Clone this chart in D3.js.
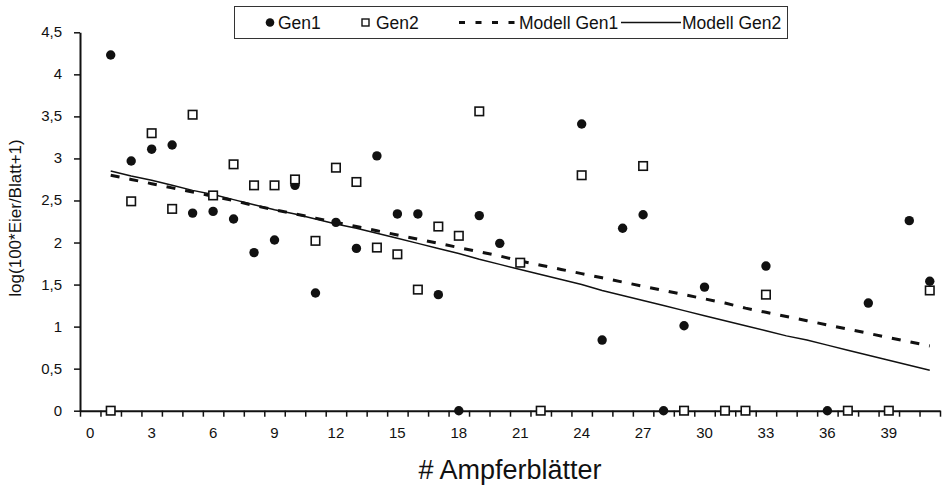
<!DOCTYPE html>
<html><head><meta charset="utf-8">
<script src="https://cdn.jsdelivr.net/npm/d3@7"></script>
<style>
body{margin:0;background:#fff}
svg{display:block}
text{font-family:"Liberation Sans",Arial,Helvetica,sans-serif;fill:#111}
</style>
</head><body>
<svg id="chart" width="945" height="488"></svg>
<script>
// ---- data ----
const categories = d3.range(0, 42);            // # Ampferblätter (category axis)
const xTickLabels = [0, 3, 6, 9, 12, 15, 18, 21, 24, 27, 30, 33, 36, 39];
const yTickValues = [0, 0.5, 1, 1.5, 2, 2.5, 3, 3.5, 4, 4.5];
const seriesNames = ["Gen1", "Gen2", "Modell Gen1", "Modell Gen2"];

// Gen1 observations [category, value]
const gen1Cat = [1, 2, 3, 4, 5, 6, 7, 8, 9, 10, 11, 12, 13, 14, 15, 16, 17, 18, 19, 20, 24, 25, 26, 27, 28, 29, 30, 33, 36, 38, 40, 41];
const gen1Val = [4.23, 2.97, 3.11, 3.16, 2.35, 2.37, 2.28, 1.88, 2.03, 2.68, 1.40, 2.24, 1.93, 3.03, 2.34, 2.34, 1.38, 0, 2.32, 1.99, 3.41, 0.84, 2.17, 2.33, 0, 1.01, 1.47, 1.72, 0, 1.28, 2.26, 1.54];

// Gen2 observations
const gen2Cat = [1, 2, 3, 4, 5, 6, 7, 8, 9, 10, 11, 12, 13, 14, 15, 16, 17, 18, 19, 21, 22, 24, 27, 29, 31, 32, 33, 37, 39, 41];
const gen2Val = [0, 2.49, 3.30, 2.40, 3.52, 2.56, 2.93, 2.68, 2.68, 2.75, 2.02, 2.89, 2.72, 1.94, 1.86, 1.44, 2.19, 2.08, 3.56, 1.76, 0, 2.80, 2.91, 0, 0, 0, 1.38, 0, 0, 1.43];

// Model curves, categories 1..41
const modelCat = d3.range(1, 42);
const modelGen1 = [2.80, 2.75, 2.70, 2.65, 2.60, 2.55, 2.50, 2.44, 2.39, 2.34, 2.29, 2.24, 2.19, 2.14, 2.09, 2.04, 1.99, 1.94, 1.89, 1.84, 1.78, 1.73, 1.68, 1.63, 1.58, 1.53, 1.48, 1.43, 1.38, 1.33, 1.28, 1.22, 1.17, 1.12, 1.07, 1.02, 0.97, 0.92, 0.87, 0.82, 0.77];
const modelGen2 = [2.85, 2.79, 2.74, 2.68, 2.62, 2.57, 2.51, 2.45, 2.39, 2.34, 2.28, 2.22, 2.17, 2.11, 2.05, 1.99, 1.93, 1.87, 1.80, 1.74, 1.68, 1.62, 1.56, 1.50, 1.43, 1.37, 1.31, 1.25, 1.19, 1.13, 1.07, 1.01, 0.95, 0.89, 0.84, 0.78, 0.72, 0.66, 0.60, 0.54, 0.48];

// ---- chart ----
const svg = d3.select("#chart");
const ink = "#111";

const x = d3.scaleBand().domain(categories).range([80, 940]).paddingInner(0).paddingOuter(0);
const xc = d => x(d) + x.bandwidth() / 2;
const xb = d3.scaleLinear().domain([0, categories.length]).range([80, 940]);
const y = d3.scaleLinear().domain([0, 4.5]).range([410.7, 32.3]);

// y axis
const yAxis = svg.append("g").attr("transform", "translate(80,0)")
  .call(d3.axisLeft(y).tickValues(yTickValues).tickSize(6).tickSizeOuter(0).tickPadding(12)
    .tickFormat(d => String(d).replace(".", ",")));
yAxis.select(".domain").attr("stroke", ink).attr("stroke-width", 2);
yAxis.selectAll(".tick line").attr("stroke", ink).attr("stroke-width", 1.5);
yAxis.selectAll(".tick text").attr("font-size", 15).attr("font-family", "Liberation Sans, Arial, sans-serif")
  .attr("fill", ink).attr("dy", "0.3em");

// x axis (tick marks at category boundaries)
const xAxis = svg.append("g").attr("transform", `translate(0,${y(0)})`)
  .call(d3.axisBottom(xb).tickValues(d3.range(0, categories.length + 1)).tickSize(6).tickSizeOuter(0).tickFormat(""));
xAxis.select(".domain").attr("stroke", ink).attr("stroke-width", 2);
xAxis.selectAll(".tick line").attr("stroke", ink).attr("stroke-width", 1.5);

// x labels centered in categories
svg.append("g").selectAll("text").data(xTickLabels).join("text")
  .attr("x", d => xc(d)).attr("y", 438)
  .attr("text-anchor", "middle").attr("font-size", 15).attr("fill", ink)
  .text(d => d);

// axis titles
svg.append("text").attr("x", 510).attr("y", 479).attr("text-anchor", "middle")
  .attr("font-size", 27).attr("fill", ink).text("# Ampferblätter");
svg.append("text").attr("transform", "translate(21,218) rotate(-90)").attr("text-anchor", "middle")
  .attr("font-size", 17).attr("fill", ink).text("log(100*Eier/Blatt+1)");

// model lines
const line = d3.line().x(d => xc(d[0])).y(d => y(d[1]));
svg.append("path").datum(modelCat.map((c, i) => [c, modelGen1[i]]))
  .attr("d", line).attr("fill", "none").attr("stroke", ink).attr("stroke-width", 3)
  .attr("stroke-dasharray", "9,10");
svg.append("path").datum(modelCat.map((c, i) => [c, modelGen2[i]]))
  .attr("d", line).attr("fill", "none").attr("stroke", ink).attr("stroke-width", 1.5);

// points
svg.append("g").selectAll("circle").data(gen1Cat.map((c, i) => [c, gen1Val[i]])).join("circle")
  .attr("cx", d => xc(d[0])).attr("cy", d => y(d[1])).attr("r", 4.7).attr("fill", ink);
const sq = 8.5;
svg.append("g").selectAll("rect").data(gen2Cat.map((c, i) => [c, gen2Val[i]])).join("rect")
  .attr("x", d => xc(d[0]) - sq / 2).attr("y", d => y(d[1]) - sq / 2)
  .attr("width", sq).attr("height", sq).attr("fill", "#fff").attr("stroke", ink).attr("stroke-width", 1.6);

// legend
const lg = svg.append("g");
lg.append("rect").attr("x", 234.5).attr("y", 6.5).attr("width", 553).attr("height", 32)
  .attr("fill", "#fff").attr("stroke", "#333").attr("stroke-width", 1);
const ly = 22.5;
const lfs = 17.5;
lg.append("circle").attr("cx", 270).attr("cy", ly).attr("r", 4.3).attr("fill", ink);
lg.append("text").attr("x", 278).attr("y", ly).attr("dy", "0.35em").attr("font-size", lfs).text(seriesNames[0]);
lg.append("rect").attr("x", 362).attr("y", ly - 3.5).attr("width", 7).attr("height", 7)
  .attr("fill", "#fff").attr("stroke", ink).attr("stroke-width", 1.4);
lg.append("text").attr("x", 376).attr("y", ly).attr("dy", "0.35em").attr("font-size", lfs).text(seriesNames[1]);
lg.append("line").attr("x1", 459).attr("x2", 515).attr("y1", ly).attr("y2", ly)
  .attr("stroke", ink).attr("stroke-width", 3).attr("stroke-dasharray", "6,10.5");
lg.append("text").attr("x", 519).attr("y", ly).attr("dy", "0.35em").attr("font-size", lfs).text(seriesNames[2]);
lg.append("line").attr("x1", 621).attr("x2", 681).attr("y1", ly).attr("y2", ly)
  .attr("stroke", ink).attr("stroke-width", 1.3);
lg.append("text").attr("x", 682).attr("y", ly).attr("dy", "0.35em").attr("font-size", lfs).text(seriesNames[3]);
</script>
</body></html>
